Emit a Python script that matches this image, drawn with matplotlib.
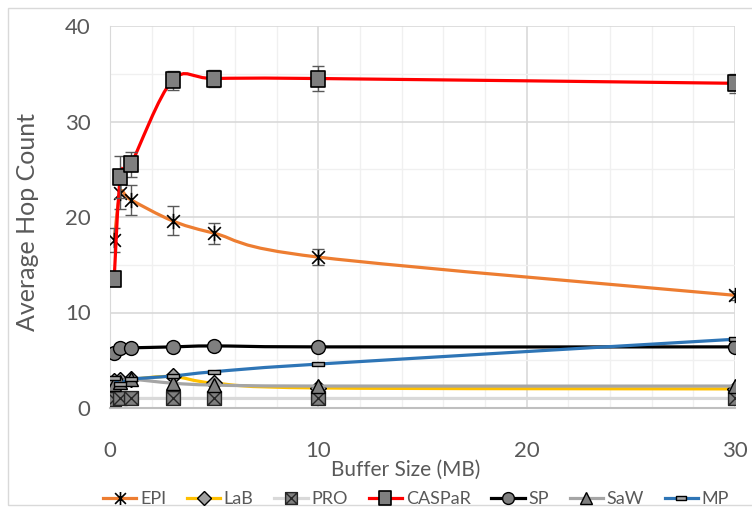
import numpy as np
import matplotlib
matplotlib.use("Agg")
import matplotlib.pyplot as plt
from matplotlib.path import Path
from matplotlib.patches import PathPatch, Rectangle
from matplotlib.lines import Line2D
from matplotlib.ticker import MultipleLocator

plt.rcParams['font.family'] = ['Lato', 'DejaVu Sans']

# buffer sizes (MB)
buffer_mb = [0.2, 0.5, 1, 3, 5, 10, 30]

epi = [17.6, 22.5, 21.8, 19.6, 18.3, 15.8, 11.8]
epi_err = [1.3, 1.7, 1.6, 1.5, 1.1, 0.8, 0.5]
lab = [2.8, 2.9, 3.0, 3.3, 2.6, 2.1, 2.0]
pro = [0.9, 1.0, 1.0, 1.0, 1.0, 1.0, 1.0]
caspar = [13.5, 24.2, 25.5, 34.3, 34.5, 34.5, 34.0]
caspar_err = [0.4, 2.2, 1.3, 1.0, 0.9, 1.3, 1.0]
sp = [5.8, 6.3, 6.3, 6.4, 6.5, 6.4, 6.4]
saw = [2.5, 2.7, 3.0, 2.6, 2.4, 2.3, 2.3]
mp = [3.1, 2.5, 3.0, 3.35, 3.8, 4.6, 7.2]

series_names = ['EPI', 'LaB', 'PRO', 'CASPaR', 'SP', 'SaW', 'MP']

# custom marker shapes (Excel style)
star_m = Path([(-1, -1), (1, 1), (-1, 1), (1, -1), (0, -1.2), (0, 1.2)],
              [Path.MOVETO, Path.LINETO, Path.MOVETO, Path.LINETO, Path.MOVETO, Path.LINETO])
boxx_m = Path([(-1, -1), (1, -1), (1, 1), (-1, 1), (-1, -1),
               (-1, -1), (1, 1), (-1, 1), (1, -1)],
              [Path.MOVETO, Path.LINETO, Path.LINETO, Path.LINETO, Path.CLOSEPOLY,
               Path.MOVETO, Path.LINETO, Path.MOVETO, Path.LINETO])
tall_sq = Path([(-0.8, -1), (0.8, -1), (0.8, 1), (-0.8, 1), (-0.8, -1)],
               [Path.MOVETO, Path.LINETO, Path.LINETO, Path.LINETO, Path.CLOSEPOLY])
flat_rect = Path([(-1, -0.3), (1, -0.3), (1, 0.3), (-1, 0.3), (-1, -0.3)],
                 [Path.MOVETO, Path.LINETO, Path.LINETO, Path.LINETO, Path.CLOSEPOLY])

styles = {
    'EPI':    dict(color='#ED7D31', marker=star_m, ms=11, mfc='black', mec='black', mew=1.2),
    'LaB':    dict(color='#FFC000', marker='D', ms=8, mfc='#a0a0a0', mec='black', mew=1.0),
    'PRO':    dict(color='#D9D9D9', marker=boxx_m, ms=10, mfc='#7f7f7f', mec='#262626', mew=1.0),
    'CASPaR': dict(color='#FF0000', marker=tall_sq, ms=12, mfc='#7f7f7f', mec='black', mew=1.2),
    'SP':     dict(color='black', marker='o', ms=10, mfc='#7f7f7f', mec='black', mew=1.0),
    'SaW':    dict(color='#A5A5A5', marker='^', ms=10, mfc='#7f7f7f', mec='black', mew=1.0),
    'MP':     dict(color='#2E75B6', marker=flat_rect, ms=9, mfc='#a6a6a6', mec='black', mew=1.0),
}


def smooth_path(x, y):
    """Excel-like smoothed line as cubic bezier segments."""
    x = np.asarray(x, float)
    y = np.asarray(y, float)
    n = len(x)
    verts = [(x[0], y[0])]
    codes = [Path.MOVETO]
    for i in range(n - 1):
        i0 = max(i - 1, 0)
        i3 = min(i + 2, n - 1)
        c1 = (x[i] + (x[i + 1] - x[i0]) / 6, y[i] + (y[i + 1] - y[i0]) / 6)
        c2 = (x[i + 1] - (x[i3] - x[i]) / 6, y[i + 1] - (y[i3] - y[i]) / 6)
        verts += [c1, c2, (x[i + 1], y[i + 1])]
        codes += [Path.CURVE4] * 3
    return Path(verts, codes)


fig = plt.figure(figsize=(7.52, 5.08), dpi=100)
ax = fig.add_axes([110 / 752, 1 - 408 / 508, 625 / 752, 382 / 508])

data = {'EPI': epi, 'LaB': lab, 'PRO': pro, 'CASPaR': caspar,
        'SP': sp, 'SaW': saw, 'MP': mp}
errs = {'EPI': epi_err, 'CASPaR': caspar_err}

handles = []
for k, name in enumerate(series_names):
    st = styles[name]
    z = 3 + k
    ax.add_patch(PathPatch(smooth_path(buffer_mb, data[name]), fill=False,
                           edgecolor=st['color'], lw=2.3, zorder=z))
    if name in errs:
        ax.errorbar(buffer_mb, data[name], yerr=errs[name], fmt='none',
                    ecolor='#595959', elinewidth=1.0, capsize=4, capthick=1.0, zorder=z)
    ax.plot(buffer_mb, data[name], linestyle='none', marker=st['marker'],
            markersize=st['ms'], markerfacecolor=st['mfc'],
            markeredgecolor=st['mec'], markeredgewidth=st['mew'], zorder=z + 0.5)
    handles.append(Line2D([], [], color=st['color'], lw=2.3, marker=st['marker'],
                          markersize=st['ms'] * 0.85, markerfacecolor=st['mfc'],
                          markeredgecolor=st['mec'], markeredgewidth=st['mew']))

ax.set_xlim(0, 30)
ax.set_ylim(0, 40)
ax.xaxis.set_major_locator(MultipleLocator(10))
ax.xaxis.set_minor_locator(MultipleLocator(2))
ax.yaxis.set_major_locator(MultipleLocator(10))
ax.yaxis.set_minor_locator(MultipleLocator(5))
ax.grid(True, which='major', color='#D9D9D9', lw=1.2, zorder=0)
ax.grid(True, which='minor', color='#F0F0F0', lw=1.0, zorder=0)
ax.set_axisbelow(True)
ax.tick_params(which='both', length=0, colors='#595959', labelsize=16)
ax.tick_params(axis='y', pad=14)
ax.tick_params(axis='x', pad=24)
for side in ['top', 'right']:
    ax.spines[side].set_visible(False)
ax.spines['left'].set_color('#D9D9D9')
ax.spines['bottom'].set_color('#BFBFBF')
ax.spines['bottom'].set_linewidth(1.5)

fig.text(406 / 752, 1 - 470 / 508, 'Buffer Size (MB)', ha='center', va='center',
         fontsize=15, color='#595959')
fig.text(28 / 752, 1 - 222 / 508, 'Average Hop Count', ha='center', va='center',
         rotation=90, fontsize=18, color='#595959')

leg = fig.legend(handles, series_names, loc='center', bbox_to_anchor=(416 / 752, 1 - 499 / 508),
                 ncol=7, frameon=False, fontsize=13, handlelength=1.85, handletextpad=0.2,
                 columnspacing=1.15, labelcolor='#595959', borderpad=0, borderaxespad=0)

# chart area border
fig.add_artist(Rectangle((8 / 752, 3 / 508), 1.0, 1 - 11 / 508, transform=fig.transFigure,
                         fill=False, edgecolor='#D9D9D9', lw=1.0))

fig.savefig('out.png', dpi=100)
